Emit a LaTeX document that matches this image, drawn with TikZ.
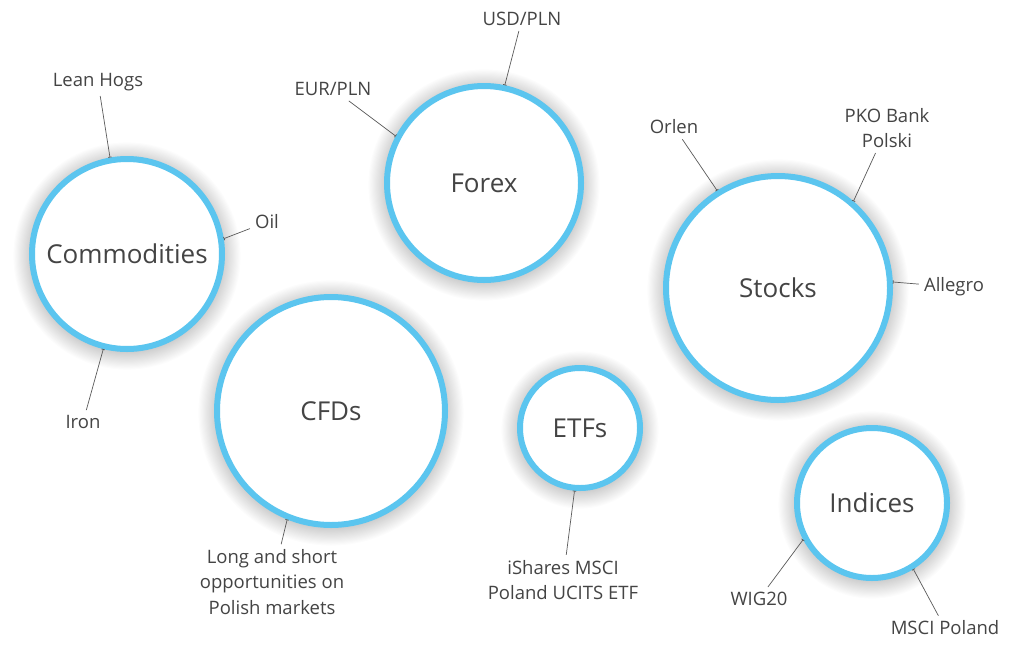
\documentclass[tikz,border=0pt]{standalone}
\usepackage{fontspec}
\setmainfont{Open Sans}
\usetikzlibrary{arrows.meta,backgrounds}
\definecolor{ring}{HTML}{5BC5EF}
\definecolor{txt}{HTML}{444444}
\definecolor{lnk}{HTML}{5A5A5A}
\newcommand{\softglow}[2]{%
  \foreach \k in {1,...,16}{%
    \fill[black, opacity=0.012] ([yshift=-2pt]#1.center) circle ({#2+\k*1.1pt});}}
\begin{document}
\begin{tikzpicture}[x=1pt,y=1pt,
 bubble/.style={circle, draw=ring, line width=6pt, fill=white, text=txt, inner sep=0pt,
   font=\fontsize{26}{30}\selectfont},
 lab/.style={text=txt, font=\fontsize{18.5}{25.5}\selectfont, align=center, inner sep=5pt},
 link/.style={draw=lnk, line width=0.7pt, -{Bar[width=3.5pt,line width=0.7pt]}}]
\useasboundingbox (0,0) rectangle (1024,-648);

% bubbles
\node[bubble, minimum size=190] (com) at (127,-254) {Commodities};
\node[bubble, minimum size=194] (fx)  at (484,-183) {Forex};
\node[bubble, minimum size=224] (stk) at (778,-288) {Stocks};
\node[bubble, minimum size=228] (cfd) at (331,-411) {CFDs};
\node[bubble, minimum size=120] (etf) at (580,-428) {ETFs};
\node[bubble, minimum size=150] (ind) at (872,-503) {Indices};

\begin{scope}[on background layer]
  \fill[white] (0,0) rectangle (1024,-648);
  \softglow{com}{96pt}
  \softglow{fx}{98pt}
  \softglow{stk}{113pt}
  \softglow{cfd}{115pt}
  \softglow{etf}{61pt}
  \softglow{ind}{76pt}
\end{scope}

% labels
\node[lab] (lh)   at (98,-82)  {Lean Hogs};
\node[lab] (oil)  at (267,-222) {Oil};
\node[lab] (iron) at (83,-422) {Iron};
\node[lab] (eur)  at (333,-89) {EUR/PLN};
\node[lab] (usd)  at (522,-19) {USD/PLN};
\node[lab] (orl)  at (674,-127) {Orlen};
\node[lab] (pko)  at (887,-128) {PKO Bank\\Polski};
\node[lab] (all)  at (954,-287) {Allegro};
\node[lab] (long) at (272,-582) {Long and short\\opportunities on\\Polish markets};
\node[lab] (ish)  at (563,-580) {iShares MSCI\\Poland UCITS ETF};
\node[lab] (wig)  at (759,-599) {WIG20};
\node[lab] (msci) at (945,-628) {MSCI Poland};

% connectors
\draw[link] (lh)   -- (com.100);
\draw[link] (oil)  -- (com.9);
\draw[link] (iron) -- (com.256);
\draw[link] (eur)  -- (fx.152);
\draw[link] (usd)  -- (fx.78);
\draw[link] (orl)  -- (stk.122);
\draw[link] (pko)  -- (stk.49);
\draw[link] (all)  -- (stk.3);
\draw[link] (long) -- (cfd.248);
\draw[link] (ish)  -- (etf.265);
\draw[link] (wig)  -- (ind.208);
\draw[link] (msci) -- (ind.302);
\end{tikzpicture}
\end{document}
